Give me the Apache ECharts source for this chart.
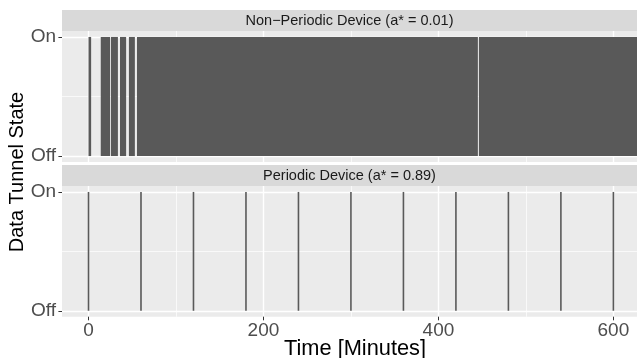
<!DOCTYPE html>
<html><head><meta charset="utf-8">
<script src="https://cdn.jsdelivr.net/npm/echarts@6/dist/echarts.min.js"></script>
<style>html,body{margin:0;padding:0;background:#fff}#c{width:637px;height:358px}</style>
</head><body><div id="c"></div>
<script>
// ---- data ----
const panelTitles = ['Non\u2212Periodic Device (a* = 0.01)', 'Periodic Device (a* = 0.89)'];
const xTicks = [0, 200, 400, 600];
const xMinorTicks = [100, 300, 500];
const yTicks = [0, 1];
const yTickLabels = ['Off', 'On'];
const yMinorTicks = [0.5];
const nonPeriodicStart = [0, 14, 25.6, 36, 46.2, 55.4, 446.3];
const nonPeriodicEnd = [3, 24.6, 33.6, 43, 53, 445.1, 650];
const periodicTimes = [0, 60, 120, 180, 240, 300, 360, 420, 480, 540, 600];
const xTitle = 'Time [Minutes]';
const yTitle = 'Data Tunnel State';

// ---- layout ----
const FONT = 'Liberation Sans, Arial, sans-serif';
const panels = [{top: 31, height: 131, stripTop: 10}, {top: 186, height: 130.7, stripTop: 165}];
const LEFT = 62, RIGHT = 637;
const XMIN = -30.3, XMAX = 627, YMIN = -0.05, YMAX = 1.05;

const chart = echarts.init(document.getElementById('c'), null, {renderer: 'canvas'});

const grids = panels.map(p => ({left: LEFT, top: p.top, width: RIGHT - LEFT, height: p.height,
  show: true, backgroundColor: '#ebebeb', borderWidth: 0, containLabel: false}));

const xAxes = [], yAxes = [];
panels.forEach((p, i) => {
  const bottom = i === panels.length - 1;
  xAxes.push({type: 'value', gridIndex: i, min: XMIN, max: XMAX, position: 'bottom',
    axisLine: {show: false, onZero: false},
    axisTick: {show: bottom, customValues: xTicks, length: 3.6, lineStyle: {color: '#333333', width: 1}},
    axisLabel: {show: bottom, customValues: xTicks, fontSize: 19, color: '#4d4d4d', fontFamily: FONT, margin: 5},
    splitLine: {show: true, lineStyle: {color: '#ffffff', width: 1.4}}
  });
  xAxes.push({type: 'value', gridIndex: i, min: XMIN, max: XMAX, position: 'bottom',
    axisLine: {show: false, onZero: false}, axisTick: {show: false, customValues: xMinorTicks},
    axisLabel: {show: false, customValues: xMinorTicks},
    splitLine: {show: true, lineStyle: {color: '#ffffff', width: 0.7}}
  });
  yAxes.push({type: 'value', gridIndex: i, min: YMIN, max: YMAX, position: 'left',
    axisLine: {show: false, onZero: false},
    axisTick: {show: true, customValues: yTicks, length: 3.6, lineStyle: {color: '#333333', width: 1}},
    axisLabel: {show: true, customValues: yTicks, fontSize: 19, color: '#4d4d4d', fontFamily: FONT, margin: 6,
      formatter: v => yTickLabels[yTicks.indexOf(Math.round(v))] || ''},
    splitLine: {show: true, lineStyle: {color: '#ffffff', width: 1.4}}
  });
  yAxes.push({type: 'value', gridIndex: i, min: YMIN, max: YMAX, position: 'left',
    axisLine: {show: false, onZero: false}, axisTick: {show: false, customValues: yMinorTicks},
    axisLabel: {show: false, customValues: yMinorTicks},
    splitLine: {show: true, lineStyle: {color: '#ffffff', width: 0.7}}
  });
});

const graphics = [];
panels.forEach((p, i) => {
  graphics.push({type: 'rect', shape: {x: LEFT, y: p.stripTop, width: RIGHT - LEFT, height: p.top - p.stripTop},
    style: {fill: '#d9d9d9'}, z: -1});
  graphics.push({type: 'text', x: (LEFT + RIGHT) / 2, y: (p.stripTop + p.top) / 2,
    style: {text: panelTitles[i], fontSize: 14.5, fill: '#1a1a1a', fontFamily: FONT, align: 'center', verticalAlign: 'middle'}});
});
graphics.push({type: 'text', x: 355, y: 349, style: {text: xTitle, fontSize: 21.8, fill: '#000', fontFamily: FONT,
  align: 'center', verticalAlign: 'middle'}});
graphics.push({type: 'text', x: 17.5, y: 172, rotation: Math.PI / 2, style: {text: yTitle, fontSize: 20, fill: '#000',
  fontFamily: FONT, align: 'center', verticalAlign: 'middle'}});

function renderRect(params, api) {
  const p0 = api.coord([api.value(0), 1]);
  const p1 = api.coord([api.value(1), 0]);
  const r = echarts.graphic.clipRectByRect({x: p0[0], y: p0[1], width: p1[0] - p0[0], height: p1[1] - p0[1]}, params.coordSys);
  return r && {type: 'rect', shape: r, style: {fill: '#595959'}};
}
function renderLine(params, api) {
  const a = api.coord([api.value(0), 0]);
  const b = api.coord([api.value(0), 1]);
  return {type: 'line', shape: {x1: a[0], y1: a[1], x2: b[0], y2: b[1]}, style: {stroke: '#595959', lineWidth: 1.6}};
}

chart.setOption({
  animation: false,
  grid: grids,
  xAxis: xAxes,
  yAxis: yAxes,
  graphic: graphics,
  series: [
    {type: 'custom', xAxisIndex: 0, yAxisIndex: 0, renderItem: renderRect, encode: {x: [0, 1]},
      data: nonPeriodicStart.map((s, k) => [s, nonPeriodicEnd[k]])},
    {type: 'custom', xAxisIndex: 2, yAxisIndex: 2, renderItem: renderLine, encode: {x: 0},
      data: periodicTimes.map(t => [t])}
  ]
});
</script></body></html>
